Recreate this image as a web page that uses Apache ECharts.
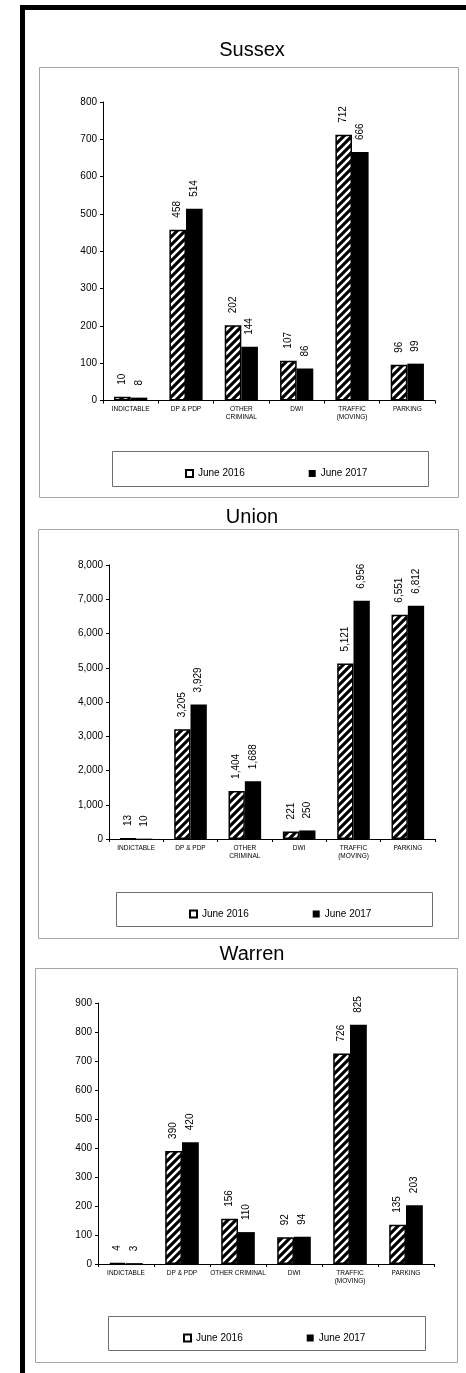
<!DOCTYPE html>
<html>
<head>
<meta charset="utf-8">
<script src="https://cdn.jsdelivr.net/npm/echarts@6/dist/echarts.min.js"></script>
<style>
  html, body { margin: 0; padding: 0; background: #fff; }
  #main { width: 466px; height: 1373px; }
</style>
</head>
<body>
<div id="main"></div>
<script>
// categories
var categories = ['INDICTABLE', 'DP & PDP', 'OTHER\nCRIMINAL', 'DWI', 'TRAFFIC\n(MOVING)', 'PARKING'];
var warrenCategories = ['INDICTABLE', 'DP & PDP', 'OTHER CRIMINAL', 'DWI', 'TRAFFIC\n(MOVING)', 'PARKING'];
var seriesNames = ['June 2016', 'June 2017'];
var panelTitles = ['Sussex', 'Union', 'Warren'];

// values
var sussex2016 = [10, 458, 202, 107, 712, 96];
var sussex2017 = [8, 514, 144, 86, 666, 99];
var union2016 = [13, 3205, 1404, 221, 5121, 6551];
var union2017 = [10, 3929, 1688, 250, 6956, 6812];
var warren2016 = [4, 390, 156, 92, 726, 135];
var warren2017 = [3, 420, 110, 94, 825, 203];

// y axis ticks
var yMax = [800, 8000, 900];
var yStep = [100, 1000, 100];

var FONT = 'Liberation Sans, Arial, sans-serif';

// diagonal hatch for the 2016 bars
function hatch() {
    var s = 8;
    var c = document.createElement('canvas');
    c.width = s; c.height = s;
    var ctx = c.getContext('2d');
    ctx.fillStyle = '#fff';
    ctx.fillRect(0, 0, s, s);
    ctx.strokeStyle = '#000';
    ctx.lineWidth = 3.1;
    ctx.beginPath();
    ctx.moveTo(0, s); ctx.lineTo(s, 0);
    ctx.moveTo(-2, 2); ctx.lineTo(2, -2);
    ctx.moveTo(s - 2, s + 2); ctx.lineTo(s + 2, s - 2);
    ctx.stroke();
    return { image: c, repeat: 'repeat' };
}
var hatchFill = hatch();

function fmt(v) {
    return Number(v).toLocaleString('en-US');
}

// layout of each panel (px)
var grids = [
    { left: 103, top: 102, width: 332, height: 298.6 },
    { left: 109, top: 565, width: 326, height: 274 },
    { left: 98, top: 1003, width: 336, height: 261 }
];
var panels = [
    { x: 39, y: 67, w: 419, h: 430, titleY: 50 },
    { x: 38, y: 529, w: 420, h: 409, titleY: 517 },
    { x: 35, y: 968, w: 422, h: 394, titleY: 954 }
];
var legendBoxes = [
    { x: 112, y: 451, w: 316, h: 35, left: 180 },
    { x: 116, y: 892, w: 316, h: 34, left: 184 },
    { x: 108, y: 1316, w: 317, h: 34, left: 178 }
];

var catLists = [categories, categories, warrenCategories];
var data2016 = [sussex2016, union2016, warren2016];
var data2017 = [sussex2017, union2017, warren2017];

var xAxes = [], yAxes = [], series = [], legends = [], graphics = [];

// outer frame
graphics.push({ type: 'rect', shape: { x: 20, y: 5, width: 5, height: 1368 }, style: { fill: '#000' } });
graphics.push({ type: 'rect', shape: { x: 20, y: 5, width: 446, height: 5 }, style: { fill: '#000' } });

for (var i = 0; i < 3; i++) {
    var p = panels[i], lb = legendBoxes[i];
    graphics.push({ type: 'rect', shape: { x: p.x + 0.5, y: p.y + 0.5, width: p.w, height: p.h },
        style: { fill: 'none', stroke: '#a6a6a6', lineWidth: 1 } });
    graphics.push({ type: 'text', x: 252, y: p.titleY,
        style: { text: panelTitles[i], fill: '#000', font: '20px ' + FONT, textAlign: 'center', textVerticalAlign: 'middle' } });
    graphics.push({ type: 'rect', shape: { x: lb.x + 0.5, y: lb.y + 0.5, width: lb.w, height: lb.h },
        style: { fill: 'none', stroke: '#6e6e6e', lineWidth: 1 } });

    xAxes.push({
        type: 'category', gridIndex: i, data: catLists[i],
        axisLine: { lineStyle: { color: '#000', width: 1 } },
        axisTick: { show: true, length: 3, interval: 0, lineStyle: { color: '#000' } },
        axisLabel: { interval: 0, fontSize: 6.5, color: '#000', fontFamily: FONT, margin: 5, lineHeight: 8 }
    });
    yAxes.push({
        type: 'value', gridIndex: i, min: 0, max: yMax[i], interval: yStep[i],
        splitLine: { show: false },
        axisLine: { show: true, lineStyle: { color: '#000', width: 1 } },
        axisTick: { show: true, length: 3, lineStyle: { color: '#000' } },
        axisLabel: { fontSize: 10, color: '#000', fontFamily: FONT, margin: 6, formatter: fmt }
    });

    var lbl = {
        show: true, position: 'top', rotate: 90, align: 'left', verticalAlign: 'middle',
        distance: 12, fontSize: 10, color: '#000', fontFamily: FONT,
        formatter: function (d) { return fmt(d.value); }
    };
    series.push({
        name: seriesNames[0], type: 'bar', xAxisIndex: i, yAxisIndex: i,
        data: data2016[i], barWidth: '30%', barGap: '0%',
        itemStyle: { color: hatchFill, borderColor: '#000', borderWidth: 1.5 },
        label: lbl
    });
    series.push({
        name: seriesNames[1], type: 'bar', xAxisIndex: i, yAxisIndex: i,
        data: data2017[i], barWidth: '30%', barGap: '0%',
        itemStyle: { color: '#000' },
        label: lbl
    });

    legends.push({
        left: lb.left, top: lb.y + lb.h / 2 - 5,
        itemWidth: 7, itemHeight: 7, itemGap: 64,
        textStyle: { fontSize: 10, color: '#000', fontFamily: FONT },
        selectedMode: false,
        data: [
            { name: seriesNames[0], icon: 'rect', itemStyle: { color: '#fff', borderColor: '#000', borderWidth: 2 } },
            { name: seriesNames[1], icon: 'rect', itemStyle: { color: '#000' } }
        ]
    });
}

var myChart = echarts.init(document.getElementById('main'));
myChart.setOption({
    animation: false,
    grid: grids,
    xAxis: xAxes,
    yAxis: yAxes,
    legend: legends,
    series: series,
    graphic: graphics
});
window.addEventListener('resize', function () {
    myChart.resize();
});
</script>
</body>
</html>
